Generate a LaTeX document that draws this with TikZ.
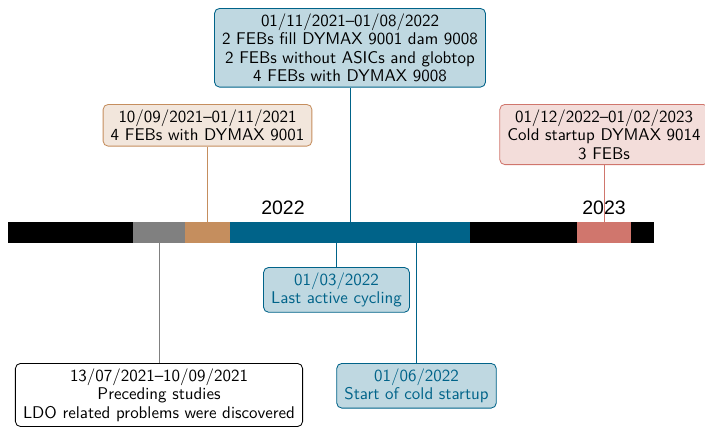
\documentclass[tikz,border=0pt]{standalone}
\usepackage{fontspec}
\usepackage{tikz}
\newfontfamily\yearfont{Liberation Sans}
\definecolor{febblue}{RGB}{0,99,137}
\definecolor{febtan}{RGB}{197,142,94}
\definecolor{febred}{RGB}{208,118,109}
\definecolor{febgray}{RGB}{128,128,128}

\begin{document}
\begin{tikzpicture}[x=0.59pt, y=-0.59pt,
    event/.style={draw, rounded corners=3pt, align=center, anchor=north, line width=0.5pt,
      inner xsep=4.5pt, inner ysep=3pt, font=\sffamily\fontsize{10}{10.9}\selectfont},
    year/.style={font=\yearfont\fontsize{11.5}{12}\selectfont}]
                        \useasboundingbox (0,0) rectangle (705,426);

                        \fill[black] (8,222) rectangle (654,243);
                        \fill[febgray] (133,222) rectangle (185,243);
                        \fill[febtan] (185,222) rectangle (230,243);
                        \fill[febblue] (230,222) rectangle (470,243);
                        \fill[febred] (577,222) rectangle (631,243);

                        \coordinate (prep) at (159,243);
                        \coordinate (dymaxa) at (207.5,222);
                        \coordinate (mixed) at (350,222);
                        \coordinate (lastcyc) at (336.5,243);
                        \coordinate (coldstart) at (416.5,243);
                        \coordinate (cold) at (604,222);

                        \node[year] (y22) at (283,208) {2022};
                        \node[year] (y23) at (604,208) {2023};

                        \node[event, draw=febblue, fill=febblue!25] (mixedbox) at (350,8)
                          {01/11/2021--01/08/2022\\2 FEBs fill DYMAX 9001 dam 9008\\2 FEBs without ASICs and globtop\\4 FEBs with DYMAX 9008};
                        \node[event, draw=febtan, fill=febtan!22] (dymaxabox) at (207.5,104)
                          {10/09/2021--01/11/2021\\4 FEBs with DYMAX 9001};
                        \node[event, draw=febred, fill=febred!25] (coldbox) at (604,104)
                          {01/12/2022--01/02/2023\\Cold startup DYMAX 9014\\3 FEBs};
                        \node[event, draw=febblue, fill=febblue!25, text=febblue] (lastcycbox) at (336.5,267)
                          {01/03/2022\\Last active cycling};
                        \node[event, draw=febblue, fill=febblue!25, text=febblue] (coldstartbox) at (416.5,363)
                          {01/06/2022\\Start of cold startup};
                        \node[event, draw=black, fill=white] (prepbox) at (159,363)
                          {13/07/2021--10/09/2021\\Preceding studies\\LDO related problems were discovered};

                        \draw[line width=0.5pt]
                        (mixedbox) edge[febblue] (mixed)
                        (dymaxabox) edge[febtan] (dymaxa)
                        (coldbox) edge[febred] (cold)
                        (lastcyc) edge[febblue] (lastcycbox)
                        (coldstart) edge[febblue] (coldstartbox)
                        (prep) edge[febgray] (prepbox);
                    \end{tikzpicture}
\end{document}
